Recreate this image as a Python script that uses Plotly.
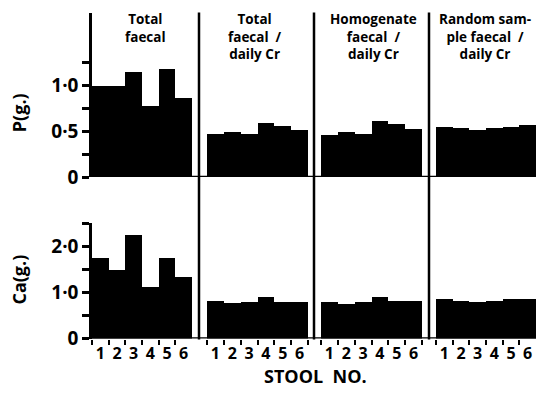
import plotly.graph_objects as go

W, H = 536, 399

stool = ["1", "2", "3", "4", "5", "6"]
panel_titles = ["Total<br>faecal",
                "Total<br>faecal  /<br>daily Cr",
                "Homogenate<br>faecal  /<br>daily Cr",
                "Random sam-<br>ple faecal  /<br>daily Cr"]

p_total = [1.00, 1.00, 1.15, 0.78, 1.18, 0.87]
p_total_cr = [0.47, 0.50, 0.47, 0.59, 0.56, 0.52]
p_homog_cr = [0.46, 0.49, 0.47, 0.61, 0.58, 0.53]
p_random_cr = [0.55, 0.54, 0.52, 0.54, 0.55, 0.57]

ca_total = [1.77, 1.51, 2.27, 1.14, 1.77, 1.35]
ca_total_cr = [0.84, 0.78, 0.80, 0.91, 0.81, 0.81]
ca_homog_cr = [0.80, 0.76, 0.80, 0.91, 0.82, 0.82]
ca_random_cr = [0.88, 0.83, 0.80, 0.83, 0.88, 0.88]

p_ticks = [0, 0.25, 0.5, 0.75, 1.0, 1.25]
p_ticktext = ["0", "", "0·5", "", "1·0", ""]
ca_ticks = [0, 0.5, 1.0, 1.5, 2.0, 2.5]
ca_ticktext = ["0", "", "1·0", "", "2·0", ""]

FONT = "Open Sans"


def fx(p):
    return p / W


def fy(p):
    return 1 - p / H


panel_px = [(92, 192), (207, 308), (321, 422), (436, 536)]
title_cx = [145, 255, 373, 485]
dividers = [199, 314, 429]

p_series = [p_total, p_total_cr, p_homog_cr, p_random_cr]
ca_series = [ca_total, ca_total_cr, ca_homog_cr, ca_random_cr]

fig = go.Figure()
layout = dict(
    width=W, height=H, margin=dict(l=0, r=0, t=0, b=0),
    paper_bgcolor="white", plot_bgcolor="white",
    showlegend=False, bargap=0,
    font=dict(family=FONT, color="black"),
)

for i in range(4):
    xa_p = "x" if i == 0 else f"x{i+1}"
    xa_c = f"x{i+5}"
    fig.add_trace(go.Bar(x=stool, y=p_series[i], xaxis=xa_p, yaxis="y",
                         marker=dict(color="black", line=dict(width=0))))
    fig.add_trace(go.Bar(x=stool, y=ca_series[i], xaxis=xa_c, yaxis="y2",
                         marker=dict(color="black", line=dict(width=0))))
    dom = [fx(panel_px[i][0]), fx(panel_px[i][1])]
    common = dict(domain=dom, type="category", range=[-0.5, 5.5],
                  showgrid=False, zeroline=False, showline=False, fixedrange=True)
    key_p = "xaxis" if i == 0 else f"xaxis{i+1}"
    layout[key_p] = dict(common, anchor="y", showticklabels=False, ticks="")
    layout[f"xaxis{i+5}"] = dict(common, anchor="y2", showticklabels=True,
                                 tickmode="linear", tick0=0, dtick=1, tickangle=0,
                                 ticks="outside", tickson="boundaries",
                                 ticklen=5, tickwidth=2.2, tickcolor="black",
                                 ticklabelstandoff=3,
                                 tickfont=dict(family=FONT, size=16, weight="bold"))

layout["yaxis"] = dict(domain=[fy(183), fy(13)], anchor="x", range=[0, 1.79],
                       tickvals=p_ticks, ticktext=p_ticktext, ticks="outside",
                       ticklen=7, tickwidth=2.5, tickcolor="black",
                       showline=True, linewidth=2.5, linecolor="black",
                       showgrid=False, zeroline=False, fixedrange=True,
                       tickfont=dict(family=FONT, size=19, weight="bold"))
layout["yaxis2"] = dict(domain=[fy(350), fy(230)], anchor="x5", range=[0, 2.53],
                        tickvals=ca_ticks, ticktext=ca_ticktext, ticks="outside",
                        ticklen=7, tickwidth=2.5, tickcolor="black",
                        showline=True, linewidth=2.5, linecolor="black",
                        showgrid=False, zeroline=False, fixedrange=True,
                        tickfont=dict(family=FONT, size=19, weight="bold"))

shapes = []
for d in dividers:
    shapes.append(dict(type="line", xref="paper", yref="paper",
                       x0=fx(d), x1=fx(d), y0=fy(13), y1=fy(351),
                       line=dict(color="black", width=2.5)))
for yr in ["y", "y2"]:
    shapes.append(dict(type="line", xref="paper", yref=yr,
                       x0=fx(91), x1=1, y0=0, y1=0,
                       line=dict(color="black", width=2.5)))
layout["shapes"] = shapes

ann = []
for t, cx in zip(panel_titles, title_cx):
    ann.append(dict(text=t, x=fx(cx), y=fy(8), xref="paper", yref="paper",
                    xanchor="center", yanchor="top", showarrow=False,
                    font=dict(family=FONT, size=13.5, weight="bold")))
ann.append(dict(text="P(g.)", x=fx(19), y=fy(117), xref="paper", yref="paper",
                xanchor="center", yanchor="middle",
                textangle=-90, showarrow=False,
                font=dict(family=FONT, size=18, weight="bold")))
ann.append(dict(text="Ca(g.)", x=fx(19), y=fy(289), xref="paper", yref="paper",
                xanchor="center", yanchor="middle",
                textangle=-90, showarrow=False,
                font=dict(family=FONT, size=18, weight="bold")))
ann.append(dict(text="STOOL  NO.", x=fx(315), y=fy(389), xref="paper", yref="paper",
                xanchor="center", yanchor="middle",
                showarrow=False,
                font=dict(family=FONT, size=18, weight="bold")))
layout["annotations"] = ann

fig.update_layout(**layout)
fig.write_html("out.html",
               config={"displayModeBar": False},
               post_script="document.body.style.margin='0';"
                           "document.body.style.padding='0';"
                           "document.body.style.overflow='hidden';")
